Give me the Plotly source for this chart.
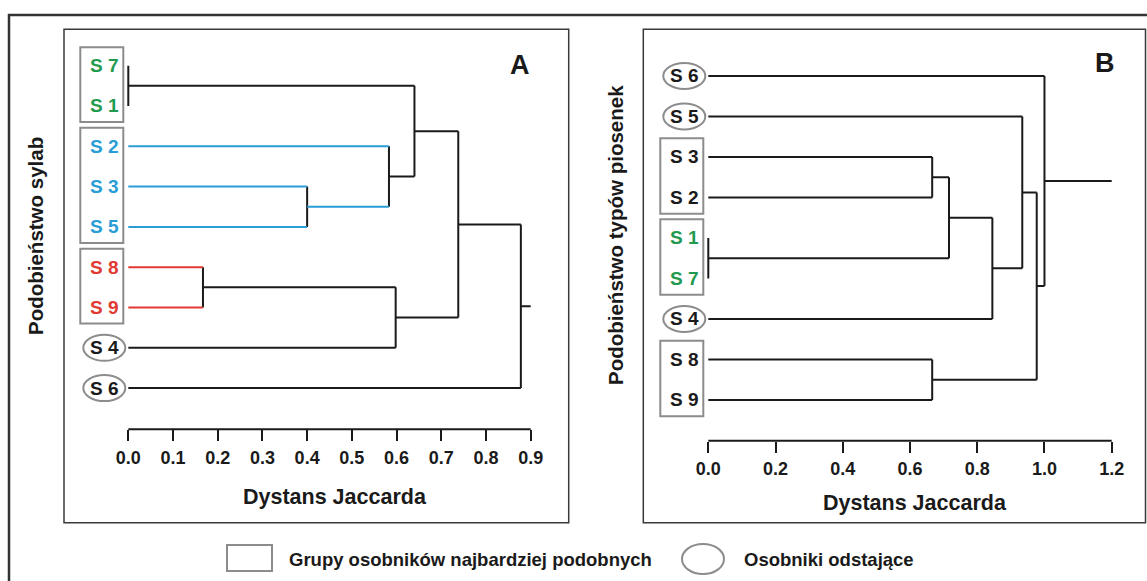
import plotly.graph_objects as go

W, H = 1147, 581
FONT = "Liberation Sans, Arial, sans-serif"
BLACK = "#1a1a1a"
COLORS = {"green": "#1f9a4e", "blue": "#2a9dd6", "red": "#e03a32", "black": BLACK}

# ---------------- data: panel A (Podobieństwo sylab) ----------------
leaves_A = ["S 7", "S 1", "S 2", "S 3", "S 5", "S 8", "S 9", "S 4", "S 6"]
leaf_colors_A = ["green", "green", "blue", "blue", "blue", "red", "red", "black", "black"]
merge_left_A = [0, 3, 2, 9, 5, 13, 12, 15]
merge_right_A = [1, 4, 10, 11, 6, 7, 14, 8]
merge_height_A = [0.0, 0.40, 0.583, 0.640, 0.167, 0.598, 0.738, 0.878]
merge_color_A = [None, "blue", "blue", None, "red", None, None, None]
root_stub_A = 0.9
boxes_A = [(0, 1), (2, 4), (5, 6)]
ellipses_A = [7, 8]
ticks_A = [0.0, 0.1, 0.2, 0.3, 0.4, 0.5, 0.6, 0.7, 0.8, 0.9]

# ---------------- data: panel B (Podobieństwo typów piosenek) ----------------
leaves_B = ["S 6", "S 5", "S 3", "S 2", "S 1", "S 7", "S 4", "S 8", "S 9"]
leaf_colors_B = ["black", "black", "black", "black", "green", "green", "black", "black", "black"]
merge_left_B = [4, 2, 10, 11, 1, 7, 13, 0]
merge_right_B = [5, 3, 9, 6, 12, 8, 14, 15]
merge_height_B = [0.0, 0.666, 0.716, 0.845, 0.934, 0.666, 0.977, 1.0]
merge_color_B = [None] * 8
root_stub_B = 1.2
boxes_B = [(2, 3), (4, 5), (7, 8)]
ellipses_B = [0, 1, 6]
ticks_B = [0.0, 0.2, 0.4, 0.6, 0.8, 1.0, 1.2]

# ---------------- layout geometry (pixels) ----------------
PANELS = {
    "A": dict(frame=(64, 29.3, 568.7, 522.7), x0px=128.3, x1px=530.7, x1val=0.9,
              axis_y=429.3, leaf0=65.7, leafstep=40.3, title_xy=(335, 497), letter_xy=(520, 65),
              ytitle_xy=(35, 236), ytitle="Podobieństwo sylab", xr="x", yr="y"),
    "B": dict(frame=(643.3, 29.3, 1145.5, 522.7), x0px=708.3, x1px=1111.7, x1val=1.2,
              axis_y=440.7, leaf0=76.0, leafstep=40.5, title_xy=(915, 503), letter_xy=(1105, 63),
              ytitle_xy=(616, 235), ytitle="Podobieństwo typów piosenek", xr="x2", yr="y2"),
}


def px(x):
    return x / W


def py(y):
    return 1 - y / H


fig = go.Figure()
shapes = []
annotations = []


def dendro(leaves, leaf_colors, ml, mr, mh, mc, stub, boxes, ellipses, ticks, key):
    P = PANELS[key]
    xr, yr = P["xr"], P["yr"]
    n = len(leaves)
    xs = {i: 0.0 for i in range(n)}
    ys = {i: float(i) for i in range(n)}
    segs = {}
    for k, (a, b, h) in enumerate(zip(ml, mr, mh)):
        node = n + k
        col = mc[k] or "black"
        for c in (a, b):
            segs.setdefault(col, []).append(((xs[c], ys[c]), (h, ys[c])))
        segs.setdefault("black", []).append(((h, ys[a]), (h, ys[b])))
        xs[node] = h
        ys[node] = (ys[a] + ys[b]) / 2
    root = n + len(ml) - 1
    segs["black"].append(((xs[root], ys[root]), (stub, ys[root])))
    for col, lst in segs.items():
        X, Y = [], []
        for (p, q) in lst:
            X += [p[0], q[0], None]
            Y += [p[1], q[1], None]
        fig.add_trace(go.Scatter(x=X, y=Y, mode="lines", xaxis=xr, yaxis=yr,
                                 line=dict(color=COLORS[col], width=2),
                                 hoverinfo="skip", showlegend=False))
    # leaf labels
    for i, (lab, c) in enumerate(zip(leaves, leaf_colors)):
        annotations.append(dict(x=0, y=i, xref=xr, yref=yr, text=lab, showarrow=False,
                                xanchor="center", yanchor="middle", xshift=-23.5,
                                font=dict(family=FONT, size=19, color=COLORS[c], weight="bold")))
    for (a, b) in boxes:
        shapes.append(dict(type="rect", xref=xr, yref=yr, xsizemode="pixel", xanchor=0,
                           x0=-48, x1=-5, y0=a - 0.46, y1=b + 0.40,
                           line=dict(color="#8c8c8c", width=2)))
    for i in ellipses:
        shapes.append(dict(type="circle", xref=xr, yref=yr, xsizemode="pixel", xanchor=0,
                           ysizemode="pixel", yanchor=i, x0=-45, x1=-3, y0=-13, y1=13,
                           line=dict(color="#8c8c8c", width=2)))
    # axis ranges
    fl, ft, fr, fb = P["frame"]
    scale = (P["x1px"] - P["x0px"]) / P["x1val"]
    xrange = [-(P["x0px"] - fl) / scale, (fr - P["x0px"]) / scale]
    ystep = P["leafstep"]
    ytop = -(P["leaf0"] - ft) / ystep
    ybot = (P["axis_y"] - P["leaf0"]) / ystep
    xname = "xaxis" if xr == "x" else "xaxis2"
    yname = "yaxis" if yr == "y" else "yaxis2"
    fig.layout[xname] = dict(domain=[px(fl), px(fr)], range=xrange, anchor=yr,
                             tickvals=ticks, ticktext=[f"{t:.1f}" for t in ticks],
                             ticks="outside", ticklen=11, tickwidth=2, tickcolor=BLACK,
                             showgrid=False, zeroline=False, showline=False,
                             ticklabelstandoff=1,
                             tickfont=dict(family=FONT, size=18, color=BLACK, weight="bold"))
    fig.layout[yname] = dict(domain=[py(P["axis_y"]), py(ft)], range=[ybot, ytop], anchor=xr,
                             visible=False, showgrid=False, zeroline=False)
    # axis baseline
    shapes.append(dict(type="line", xref=xr, yref=yr + " domain", x0=0, x1=ticks[-1], y0=0, y1=0,
                       line=dict(color=BLACK, width=2)))
    # panel frame
    shapes.append(dict(type="rect", xref="paper", yref="paper", x0=px(fl), x1=px(fr),
                       y0=py(fb), y1=py(ft), line=dict(color="#3a3a3a", width=1.5)))
    tx, ty = P["title_xy"]
    annotations.append(dict(x=px(tx), y=py(ty), xref="paper", yref="paper", text="Dystans Jaccarda",
                            showarrow=False, xanchor="center", yanchor="middle",
                            font=dict(family=FONT, size=21.5, color=BLACK, weight="bold")))
    lx, ly = P["letter_xy"]
    annotations.append(dict(x=px(lx), y=py(ly), xref="paper", yref="paper", text=key,
                            showarrow=False, xanchor="center", yanchor="middle",
                            font=dict(family=FONT, size=27, color=BLACK, weight="bold")))
    yx, yy = P["ytitle_xy"]
    annotations.append(dict(x=px(yx), y=py(yy), xref="paper", yref="paper", text=P["ytitle"],
                            showarrow=False, textangle=-90, xanchor="center", yanchor="middle",
                            font=dict(family=FONT, size=20.5, color=BLACK, weight="bold")))


dendro(leaves_A, leaf_colors_A, merge_left_A, merge_right_A, merge_height_A, merge_color_A,
       root_stub_A, boxes_A, ellipses_A, ticks_A, "A")
dendro(leaves_B, leaf_colors_B, merge_left_B, merge_right_B, merge_height_B, merge_color_B,
       root_stub_B, boxes_B, ellipses_B, ticks_B, "B")

# outer frame
shapes.append(dict(type="rect", xref="paper", yref="paper", x0=px(9), x1=px(1160), y0=py(600), y1=py(15),
                   line=dict(color="#333333", width=2.5)))
# legend
shapes.append(dict(type="rect", xref="paper", yref="paper", x0=px(227), x1=px(272), y0=py(571), y1=py(545),
                   line=dict(color="#8c8c8c", width=2)))
shapes.append(dict(type="circle", xref="paper", yref="paper", x0=px(682), x1=px(724), y0=py(574), y1=py(544),
                   line=dict(color="#8c8c8c", width=2)))
annotations.append(dict(x=px(287), y=py(559), xref="paper", yref="paper",
                        text="Grupy osobników najbardziej podobnych", showarrow=False,
                        xanchor="left", yanchor="middle",
                        font=dict(family=FONT, size=18.5, color=BLACK, weight="bold")))
annotations.append(dict(x=px(742), y=py(559), xref="paper", yref="paper",
                        text="Osobniki odstające", showarrow=False,
                        xanchor="left", yanchor="middle",
                        font=dict(family=FONT, size=18.5, color=BLACK, weight="bold")))

fig.update_layout(width=W, height=H, margin=dict(l=0, r=0, t=0, b=0), autosize=False,
                  paper_bgcolor="white", plot_bgcolor="white",
                  shapes=shapes, annotations=annotations, showlegend=False)

fig.write_html("out.html")
